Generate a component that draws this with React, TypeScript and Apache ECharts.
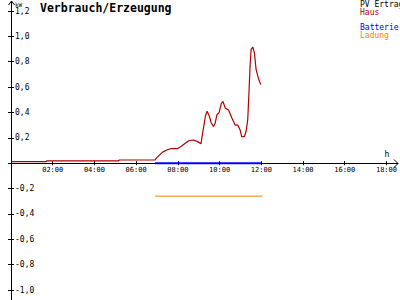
import React, { useEffect, useRef } from "react";
import * as echarts from "echarts";

const hausTimes = [0, 1.7, 1.7, 5.17, 5.17, 6.9, 6.97, 7.25, 7.49, 7.65, 7.97, 8.13, 8.29, 8.52, 8.73, 8.92, 9.11, 9.16, 9.24, 9.32, 9.4, 9.51, 9.6, 9.71, 9.79, 9.87, 9.98, 10.08, 10.16, 10.27, 10.43, 10.59, 10.75, 10.87, 10.98, 11.06, 11.19, 11.27, 11.35, 11.41, 11.46, 11.51, 11.59, 11.67, 11.75, 11.86, 11.97];
const hausValues = [0.012, 0.012, 0.018, 0.018, 0.025, 0.025, 0.04, 0.085, 0.106, 0.114, 0.114, 0.13, 0.15, 0.177, 0.183, 0.172, 0.154, 0.21, 0.29, 0.37, 0.41, 0.37, 0.317, 0.29, 0.317, 0.38, 0.4, 0.47, 0.487, 0.435, 0.42, 0.356, 0.3, 0.3, 0.264, 0.21, 0.21, 0.25, 0.343, 0.566, 0.76, 0.895, 0.916, 0.87, 0.737, 0.67, 0.62];
const batterieTimes = [6.9, 12.0];
const batterieValues = [0, 0];
const ladungTimes = [6.9, 12.05];
const ladungValues = [-0.26, -0.26];
const legendNames = ["PV Ertrag", "Haus", "Batterie", "Ladung"];
const legendColors = ["#000000", "#b00000", "#0000ff", "#ff8000"];
const title = "Verbrauch/Erzeugung";

const zip = (a: number[], b: number[]) => a.map((t, i) => [t, b[i]]);
const MONO = "DejaVu Sans Mono";

export default function App() {
  const ref = useRef<HTMLDivElement>(null);
  useEffect(() => {
    const chart = echarts.init(ref.current!, null, { renderer: "svg" });
    const xCommon = {
      type: "value" as const,
      min: 0,
      max: 18,
      interval: 2,
      position: "bottom",
      splitLine: { show: false },
      axisLine: { show: false, onZero: false },
    };
    const yCommon = {
      type: "value" as const,
      min: -1.0,
      max: 1.2,
      interval: 0.2,
      position: "left",
      offset: 0,
      splitLine: { show: false },
      axisLine: { show: false, onZero: false },
    };
    const tick = (inside: boolean, length: number) => ({
      show: true,
      inside,
      length,
      lineStyle: { color: "#000" },
    });
    const makeX = (off: number) => [
      {
        ...xCommon,
        offset: off,
        axisTick: tick(false, 2),
        axisLabel: {
          margin: 3,
          fontFamily: MONO,
          fontSize: 7,
          color: "#000",
          formatter: (v: number) => (v === 0 ? "" : String(v).padStart(2, "0") + ":00"),
        },
      },
      {
        ...xCommon,
        offset: off,
        axisTick: tick(true, 2),
        axisLabel: { show: false },
      },
    ];
    chart.setOption({
      animation: false,
      grid: { left: 11, right: 11, top: 11, bottom: 10, containLabel: false },
      xAxis: makeX(0),
      yAxis: [
        {
          ...yCommon,
          axisTick: tick(true, 3),
          axisLabel: {
            inside: true,
            margin: 4,
            fontFamily: MONO,
            fontSize: 8,
            color: "#000",
            formatter: (v: number) =>
              Math.abs(v) < 1e-9 ? "" : v.toFixed(1).replace(".", ","),
          },
        },
        {
          ...yCommon,
          axisTick: tick(false, 3),
          axisLabel: { show: false },
        },
      ],
      series: [
        {
          name: "Ladung",
          type: "line",
          data: zip(ladungTimes, ladungValues),
          showSymbol: false,
          lineStyle: { color: legendColors[3], width: 1 },
          itemStyle: { color: legendColors[3] },
        },
        {
          name: "Haus",
          type: "line",
          data: zip(hausTimes, hausValues),
          showSymbol: false,
          lineStyle: { color: legendColors[1], width: 1.2 },
          itemStyle: { color: legendColors[1] },
          z: 3,
        },
        {
          name: "Batterie",
          type: "line",
          data: zip(batterieTimes, batterieValues),
          showSymbol: false,
          lineStyle: { color: legendColors[2], width: 2 },
          itemStyle: { color: legendColors[2] },
          z: 4,
        },
      ],
    });
    const o = chart.convertToPixel({ gridIndex: 0 }, [0, 0]) as number[];
    const b = chart.convertToPixel({ gridIndex: 0 }, [0, -1.0]) as number[];
    const off = -(b[1] - o[1]);
    chart.setOption({ xAxis: makeX(off) });
    const ox = Math.round(o[0]) + 0.5;
    const oy = Math.round(o[1]) + 0.5;
    const graphics: any[] = [
      { type: "line", shape: { x1: ox, y1: 300, x2: ox, y2: 1 }, style: { stroke: "#000", lineWidth: 1 }, z: 10 },
      { type: "polyline", shape: { points: [[ox - 3, 5], [ox, 1], [ox + 3, 5]] }, style: { stroke: "#000", lineWidth: 1, fill: null }, z: 10 },
      { type: "line", shape: { x1: ox - 1, y1: oy, x2: 398, y2: oy }, style: { stroke: "#000", lineWidth: 1 }, z: 1 },
      { type: "polyline", shape: { points: [[394, oy - 4], [398, oy], [394, oy + 4]] }, style: { stroke: "#000", lineWidth: 1, fill: null }, z: 10 },
      { type: "text", x: 15, y: 4, style: { text: "kW", font: `6px '${MONO}'`, fill: "#000", verticalAlign: "middle" } },
      { type: "text", x: 387, y: 154, style: { text: "h", font: `8px '${MONO}'`, fill: "#000", align: "center", verticalAlign: "middle" } },
      { type: "text", x: 40, y: 8, style: { text: title, font: `bold 11.5px '${MONO}'`, fill: "#000", verticalAlign: "middle" } },
    ];
    const legendY = [4.5, 12, 27, 35];
    legendNames.forEach((n, i) => {
      graphics.push({
        type: "text",
        x: 360,
        y: legendY[i],
        style: { text: n, font: `8px '${MONO}'`, fill: legendColors[i], verticalAlign: "middle" },
      });
    });
    chart.setOption({ graphic: graphics });
    return () => chart.dispose();
  }, []);
  return (
    <div
      ref={ref}
      style={{ position: "fixed", left: 0, top: 0, width: 400, height: 300, background: "#fff" }}
    />
  );
}
